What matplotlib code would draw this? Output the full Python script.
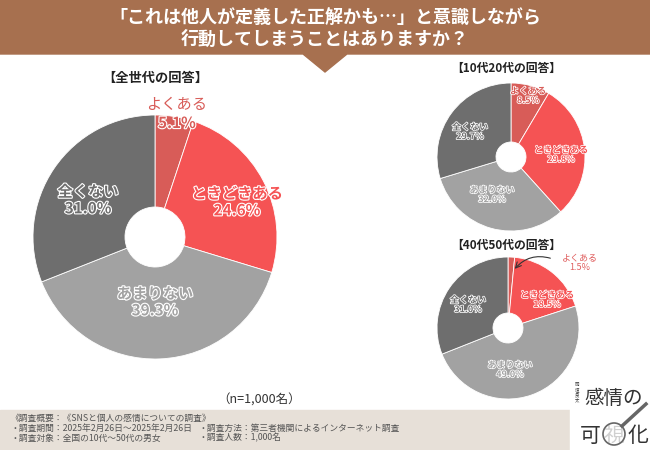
import numpy as np
import matplotlib.pyplot as plt
import matplotlib.patheffects as pe
from matplotlib.patches import Polygon, Rectangle, Circle

plt.rcParams['font.family'] = ['Noto Sans CJK JP', 'DejaVu Sans']

# data
answers = ['よくある', 'ときどきある', 'あまりない', '全くない']
all_ages = [5.1, 24.6, 39.3, 31.0]
age_10_20 = [8.5, 29.8, 32.0, 29.7]
age_40_50 = [1.5, 18.5, 49.0, 31.0]
colors = ['#d85c58', '#f55354', '#a2a2a2', '#6e6e6e']

title_lines = ['「これは他人が定義した正解かも…」と意識しながら', '行動してしまうことはありますか？']
footer_left = ['《調査概要：《SNSと個人の感情についての調査》',
               '・調査期間：2025年2月26日～2025年2月26日',
               '・調査対象：全国の10代～50代の男女']
footer_right = ['・調査方法：第三者機関によるインターネット調査',
                '・調査人数：1,000名']

W, H = 650, 450
def Y(y):
    return H - y

fig = plt.figure(figsize=(6.5, 4.5), dpi=100)
ax = fig.add_axes([0, 0, 1, 1])

def donut(vals, cx, cy, r, hole):
    ax.pie(vals, colors=colors, startangle=90, counterclock=False,
           radius=r, center=(cx, Y(cy)), frame=False,
           wedgeprops=dict(width=r - hole, edgecolor='white', linewidth=0.6))

def label(x, y, txt, col, size, lw):
    # hollow look: wedge-coloured fill with a white outline
    ax.text(x, Y(y), txt, ha='center', va='center', fontsize=size, color=col,
            linespacing=1.05, fontweight='bold',
            path_effects=[pe.withStroke(linewidth=lw, foreground='white')])

# main pie
donut(all_ages, 155, 237, 122, 30)
ax.text(155, Y(78), '【全世代の回答】', ha='center', va='center', fontsize=9.5,
        fontweight='bold', color='#222222')
ax.text(177, Y(105), answers[0], ha='center', va='center', fontsize=11, color=colors[0])
label(177, 123, f'{all_ages[0]}%', colors[0], 11, 1.6)
label(237, 202, f'{answers[1]}\n{all_ages[1]}%', colors[1], 11, 1.6)
label(155, 302, f'{answers[2]}\n{all_ages[2]}%', colors[2], 11, 1.6)
label(88, 200, f'{answers[3]}\n{all_ages[3]}%', colors[3], 11, 1.6)

# 10-20s
donut(age_10_20, 511, 157, 74, 15)
ax.text(506, Y(68), '【10代20代の回答】', ha='center', va='center', fontsize=8.5,
        fontweight='bold', color='#222222')
label(528, 96, f'{answers[0]}\n{age_10_20[0]}%', colors[0], 6.5, 1.1)
label(561, 155, f'{answers[1]}\n{age_10_20[1]}%', colors[1], 6.5, 1.1)
label(492, 195, f'{answers[2]}\n{age_10_20[2]}%', colors[2], 6.5, 1.1)
label(470, 132, f'{answers[3]}\n{age_10_20[3]}%', colors[3], 6.5, 1.1)

# 40-50s
donut(age_40_50, 508, 328, 71, 15)
ax.text(506, Y(245), '【40代50代の回答】', ha='center', va='center', fontsize=8.5,
        fontweight='bold', color='#222222')
label(547, 300, f'{answers[1]}\n{age_40_50[1]}%', colors[1], 6.5, 1.1)
label(510, 370, f'{answers[2]}\n{age_40_50[2]}%', colors[2], 6.5, 1.1)
label(468, 305, f'{answers[3]}\n{age_40_50[3]}%', colors[3], 6.5, 1.1)
ax.text(580, Y(263), f'{answers[0]}\n{age_40_50[0]}%', ha='center', va='center',
        fontsize=6.5, color='#e06060', linespacing=1.05)
ax.annotate('', xy=(513, Y(271)), xytext=(553, Y(259)),
            arrowprops=dict(arrowstyle='->', color='#333333', lw=0.8,
                            connectionstyle='arc3,rad=0.35'))

# banner
ax.add_patch(Polygon([(0, Y(0)), (W, Y(0)), (W, Y(54)), (347, Y(54)), (325, Y(72)),
                      (303, Y(54)), (0, Y(54))], closed=True, color='#a7704f', zorder=3))
ax.text(325, Y(18), title_lines[0], ha='center', va='center', fontsize=13,
        color='white', fontweight='bold', zorder=4)
ax.text(325, Y(39), title_lines[1], ha='center', va='center', fontsize=13,
        color='white', fontweight='bold', zorder=4)

# n and footer
ax.text(259, Y(400), '（n=1,000名）', ha='center', va='center', fontsize=9, color='#333333')
ax.add_patch(Rectangle((0, 0), W, H - 410, color='#e7e0d8', zorder=3))
for i, t in enumerate(footer_left):
    ax.text(10, Y(418 + 10 * i), t, ha='left', va='center', fontsize=6.3,
            color='#555555', zorder=4)
for i, t in enumerate(footer_right):
    ax.text(198, Y(428 + 10 * i), t, ha='left', va='center', fontsize=6.3,
            color='#555555', zorder=4)

# book logo
ax.add_patch(Rectangle((570, 0), 80, H - 378, color='white', zorder=5))
ax.text(614, Y(398), '感情の', ha='center', va='center', fontsize=14, color='#333333', zorder=6)
ax.text(577, Y(392), '\n'.join('岡垣良太'), ha='center', va='center', fontsize=3.2,
        color='#333333', linespacing=1.0, zorder=6)
ax.text(590, Y(436), '可', ha='center', va='center', fontsize=15, color='#333333', zorder=6)
ax.text(614, Y(436), '視', ha='center', va='center', fontsize=15, color='#d0d0d0', zorder=6)
ax.text(638, Y(436), '化', ha='center', va='center', fontsize=15, color='#333333', zorder=6)
ax.add_patch(Circle((614, Y(434)), 11, fill=False, ec='#666666', lw=1.2, zorder=7))
ax.plot([622, 646], [Y(426), Y(404)], color='#666666', lw=2.5, zorder=7)

ax.set_xlim(0, W)
ax.set_ylim(0, H)
ax.set_aspect('equal')
ax.axis('off')

fig.savefig('out.png', dpi=100)
